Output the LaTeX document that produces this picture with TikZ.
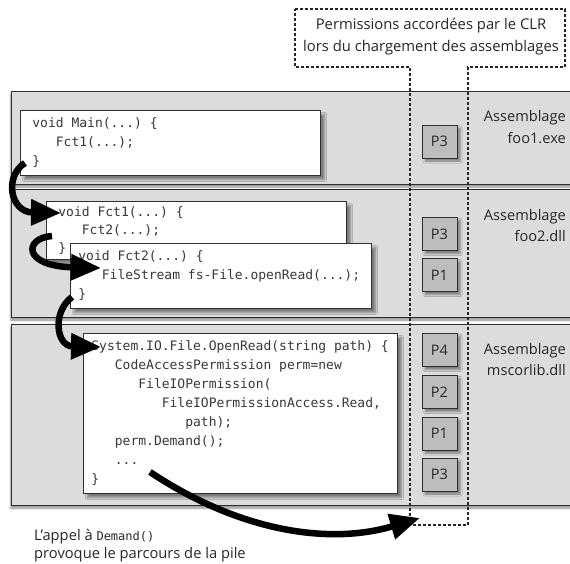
\documentclass[tikz,border=0pt]{standalone}
\usepackage{fontspec}
\setmainfont{Open Sans}
\newfontfamily\codefont{DejaVu Sans Mono}[WordSpace={1,0,0}]
\usetikzlibrary{arrows.meta,shadows.blur}
\definecolor{bandgray}{HTML}{DCDCDC}
\definecolor{pgray}{HTML}{BDBDBD}
\definecolor{codecol}{HTML}{383838}
\definecolor{edgecol}{HTML}{303030}
\newcommand\indc[1]{\hphantom{#1}}
\newcommand\monosp{\spaceskip=0.602em\relax\xspaceskip=0.602em\relax}
\begin{document}
\begin{tikzpicture}[x=1pt,y=-1pt,
  band/.style={draw=edgecol, line width=0.8pt, fill=bandgray,
    blur shadow={shadow xshift=0pt, shadow yshift=-3pt, shadow blur steps=6, shadow opacity=45}},
  codebox/.style={draw=edgecol, line width=0.8pt, fill=white, rectangle, anchor=north west,
    inner xsep=12pt, inner ysep=0pt, align=left, text=codecol,
    font=\codefont\fontsize{13}{19}\selectfont,
    blur shadow={shadow xshift=4pt, shadow yshift=-4pt, shadow blur steps=6, shadow opacity=45}},
  pbox/.style={draw=edgecol, line width=0.8pt, fill=pgray, rectangle, minimum width=35pt,
    minimum height=33pt, inner sep=0pt, text=black!85, font=\fontsize{14.5}{16}\selectfont,
    blur shadow={shadow xshift=3pt, shadow yshift=-3pt, shadow blur steps=5, shadow opacity=45}},
  asmlabel/.style={anchor=east, align=right, inner sep=0pt, text=black!85,
    font=\fontsize{14.6}{21.5}\selectfont},
  permline/.style={draw=black!85, line width=1.3pt, dash pattern=on 3pt off 2pt},
  callarrow/.style={line width=6.5pt, draw=black, -{Triangle[length=30pt,width=25pt]}}
]
\useasboundingbox (0,0) rectangle (570,564);

% bands
\draw[band] (11,91) rectangle (576,184);
\draw[band] (11,189) rectangle (576,317);
\draw[band] (11,324) rectangle (576,505);

% code boxes
\node[codebox, minimum width=300pt, text width=276pt, minimum height=65pt] (main) at (20,110)
  {\monosp void Main(...) \{\\\indc{000}Fct1(...);\\\}};
\node[codebox, minimum width=300pt, text width=276pt, minimum height=58pt,
  font=\codefont\fontsize{13}{18}\selectfont] (fctone) at (46,201)
  {\monosp void Fct1(...) \{\\\indc{000}Fct2(...);\\\}};
\node[codebox, minimum width=301pt, text width=285pt, minimum height=65pt, inner xsep=8pt] (fcttwo) at (70,243)
  {\monosp void Fct2(...) \{\\\indc{000}FileStream fs-File.openRead(...);\\\}};
\node[codebox, minimum width=314pt, text width=298pt, minimum height=160pt, inner xsep=8pt] (openread) at (83,333)
  {\monosp System.IO.File.OpenRead(string path) \{\\
   \indc{000}CodeAccessPermission perm=new\\
   \indc{000000}FileIOPermission(\\
   \indc{000000000}FileIOPermissionAccess.Read,\\
   \indc{000000000000}path);\\
   \indc{000}perm.Demand();\\
   \indc{000}...\\
   \}};

% permission boxes
\node[pbox] (pa3) at (439.5,141.5) {P3};
\node[pbox] (pb3) at (439.5,234) {P3};
\node[pbox] (pb1) at (439.5,275) {P1};
\node[pbox] (pc4) at (439.5,350) {P4};
\node[pbox] (pc2) at (439.5,392) {P2};
\node[pbox] (pc1) at (439.5,433.5) {P1};
\node[pbox] (pc3) at (439.5,474.5) {P3};

% assembly labels
\node[asmlabel] (asm1) at (566,127) {Assemblage\\foo1.exe};
\node[asmlabel] (asm2) at (566,225.5) {Assemblage\\foo2.dll};
\node[asmlabel] (asm3) at (566,359.5) {Assemblage\\mscorlib.dll};

% permissions outline
\draw[permline] (295,9) -- (565,9) -- (565,67) -- (468,67) -- (468,525) -- (410,525) -- (410,67) -- (295,67) -- cycle;
\node[align=center, inner sep=0pt, text=black!85, font=\fontsize{14.8}{22}\selectfont] (permlabel) at (431,37)
  {Permissions accordées par le CLR\\lors du chargement des assemblages};

% caption
\node[anchor=north west, align=left, inner sep=0pt, text=black!85, font=\fontsize{14.7}{18}\selectfont] (caption) at (34,529)
  {L’appel à {\codefont\fontsize{12}{14}\selectfont Demand()}\\provoque le parcours de la pile};

% call arrows
\coordinate (a1s) at (25,163);
\coordinate (a1e) at (61,213);
\coordinate (a2s) at (52,236);
\coordinate (a2e) at (101,268);
\coordinate (a3s) at (72,297);
\coordinate (a3e) at (101,347);
\coordinate (a4s) at (150,472);
\coordinate (a4e) at (420,518);
\draw[callarrow] (a1s) .. controls (4,176) and (10,212) .. (a1e);
\draw[callarrow] (a2s) .. controls (24,238) and (22,266) .. (a2e);
\draw[callarrow] (a3s) .. controls (52,312) and (56,346) .. (a3e);
\draw[callarrow] (a4s) .. controls (240,532) and (330,545) .. (a4e);
\end{tikzpicture}
\end{document}
